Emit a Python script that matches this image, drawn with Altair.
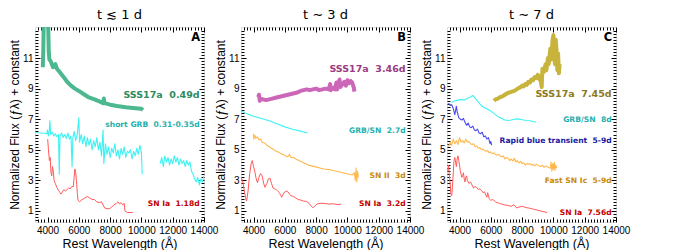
import altair as alt
import pandas as pd

# ---------------- Panel A (t <~ 1 d) ----------------
A_SSS_WL = [3700, 3730, 3760, 3850, 3950, 4030, 4080, 4120, 4200, 4350, 4500, 4600, 4800, 5000, 5250, 5500,
            5750, 6000, 6300, 6600, 7000, 7350, 7550, 7600, 7650, 8000, 8440, 9000, 9460, 9800, 10000, 10100]
A_SSS_FX = [10.4, 11.5, 13.6, 13.6, 13.6, 13.6, 11.4, 10.9, 10.8, 10.4, 10.6, 10.3, 10.05, 9.8, 9.45, 9.2,
            9.0, 8.85, 8.65, 8.45, 8.3, 8.15, 8.05, 8.35, 8.05, 7.95, 7.86, 7.78, 7.73, 7.7, 7.68, 7.6]

A_GRB1_WL = [3200, 3400, 3600, 3800, 3950, 4000, 4050, 4100, 4150, 4200, 4300, 4400, 4500, 4600, 4700, 4750,
             4800, 4900, 5000, 5100, 5200, 5300, 5400, 5500, 5570, 5620, 5700, 5800, 5900, 6000, 6050, 6150,
             6250, 6350, 6450, 6550, 6650, 6750, 6850, 6950, 7050, 7150, 7250, 7350, 7450, 7550, 7600, 7700,
             7800, 7900, 8000, 8100, 8200, 8300, 8400, 8500, 8600, 8700, 8800, 8900, 9000, 9100, 9200, 9300,
             9400, 9500, 9600, 9700, 9800, 9900, 10000, 10050]
A_GRB1_FX = [6.15, 6.12, 6.1, 6.08, 6.05, 6.3, 5.9, 6.1, 6.9, 6.0, 6.15, 5.9, 6.05, 5.85, 6.0, 3.4,
             5.9, 6.1, 5.8, 6.0, 5.75, 6.1, 5.7, 5.9, 3.9, 5.8, 6.2, 5.6, 6.0, 7.1, 5.5, 6.0,
             5.4, 5.9, 5.2, 5.8, 5.3, 5.7, 5.0, 5.6, 5.2, 5.8, 5.0, 5.5, 4.6, 6.3, 4.1, 5.4,
             4.7, 5.2, 4.5, 5.1, 4.8, 5.4, 4.6, 5.0, 4.4, 5.1, 4.7, 5.2, 4.5, 4.9, 4.8, 5.0,
             4.4, 4.9, 4.6, 5.1, 4.7, 5.3, 4.8, 3.4]
A_GRB2_WL = [11200, 11300, 11400, 11500, 11600, 11700, 11800, 11900, 12000, 12100, 12200, 12300, 12400,
             12500, 12600, 12700, 12800, 12900, 13000, 13100, 13200, 13300, 13400, 13500, 13600, 13700,
             13800, 13900, 14000]
A_GRB2_FX = [4.1, 4.5, 3.9, 4.6, 4.2, 4.5, 4.0, 4.4, 4.1, 4.6, 4.2, 4.5, 4.0,
             4.4, 4.1, 4.3, 3.9, 4.3, 4.0, 4.2, 3.6, 3.4, 3.1, 2.9, 3.2, 2.7,
             3.1, 2.9, 3.3]

A_IA_WL = [4010, 4060, 4120, 4170, 4220, 4270, 4320, 4370, 4420, 4500, 4590, 4700, 4800, 4860, 4950, 5050,
           5150, 5250, 5350, 5450, 5550, 5650, 5700, 5750, 5800, 5850, 5900, 5950, 6050, 6150, 6300, 6450,
           6550, 6700, 6850, 7000, 7150, 7300, 7450, 7550, 7650, 7800, 7950, 8100, 8250, 8400, 8500, 8600,
           8700, 8800, 8900, 8950, 9100, 9450]
A_IA_FX = [5.7, 5.0, 4.3, 4.5, 3.5, 3.3, 3.9, 3.6, 3.0, 2.8, 2.55, 2.35, 2.2, 2.1, 2.25, 2.4,
           2.3, 2.4, 2.5, 2.45, 2.6, 2.6, 3.2, 3.75, 3.5, 3.0, 2.2, 1.7, 1.6, 1.7, 1.8, 1.9,
           1.95, 1.85, 1.75, 1.75, 1.6, 1.55, 1.6, 1.4, 1.2, 1.15, 1.15, 1.25, 1.4, 1.5, 1.6, 1.45,
           1.55, 1.4, 1.5, 1.0, 0.9, 0.9]

# ---------------- Panel B (t ~ 3 d) ----------------
B_SSS_WL = [4300, 4350, 4400, 4450, 4500, 4600, 4800, 5000, 5200, 5400, 5600, 5800, 6000, 6200, 6400, 6600,
            6800, 7000, 7200, 7400, 7600, 7800, 8000, 8200, 8400, 8600, 8800, 8900, 8950, 9100, 9200, 9300,
            9350, 9500, 9550, 9700, 9800, 9900, 10000, 10100, 10200, 10300, 10400, 10450]
B_SSS_FX = [8.45, 8.6, 8.2, 8.35, 8.3, 8.3, 8.25, 8.3, 8.35, 8.4, 8.45, 8.5, 8.55, 8.6, 8.65, 8.7,
            8.75, 8.85, 8.9, 8.95, 8.9, 8.95, 9.0, 8.9, 8.95, 9.0, 8.95, 9.3, 8.9, 9.05, 8.95, 9.4,
            8.95, 9.6, 9.1, 9.3, 9.45, 9.2, 9.55, 9.35, 9.5, 9.4, 9.1, 8.8]

B_GRB_WL = [3200, 3600, 4000, 4500, 5000, 5500, 6000, 6500, 7000, 7450]
B_GRB_FX = [7.55, 7.35, 7.2, 7.05, 6.9, 6.7, 6.5, 6.35, 6.22, 6.1]

B_II_WL = [4000, 4020, 4080, 4150, 4250, 4350, 4450, 4550, 4700, 4850, 5000, 5150, 5300, 5450, 5600, 5750,
           5900, 6050, 6200, 6300, 6400, 6550, 6700, 6900, 7100, 7300, 7500, 7700, 7900, 8100, 8300, 8500,
           8700, 8900, 9100, 9300, 9500, 9700, 9900, 10100, 10300, 10450, 10500, 10550, 10600, 10650, 10700]
B_II_FX = [6.05, 5.7, 5.95, 5.75, 5.85, 5.65, 5.7, 5.5, 5.45, 5.3, 5.2, 5.1, 5.0, 4.9, 4.85, 4.75,
           4.7, 4.6, 4.55, 4.7, 4.5, 4.5, 4.4, 4.3, 4.2, 4.1, 4.0, 3.95, 3.9, 3.85, 3.8, 3.75,
           3.72, 3.7, 3.65, 3.6, 3.55, 3.5, 3.45, 3.4, 3.35, 3.5, 3.0, 3.8, 2.9, 3.6, 3.2]

B_IA_WL = [3200, 3300, 3400, 3500, 3560, 3650, 3750, 3850, 3920, 4000, 4080, 4150, 4250, 4350, 4450, 4550,
           4650, 4730, 4850, 4950, 5050, 5150, 5250, 5350, 5450, 5550, 5650, 5750, 5800, 5900, 6000, 6100,
           6200, 6300, 6400, 6550, 6700, 6850, 7000, 7200, 7400, 7550, 7700, 7800, 7900, 8050, 8250, 8500,
           8800, 9100, 9400, 9600]
B_IA_FX = [3.2, 3.0, 2.4, 1.8, 1.65, 2.3, 3.4, 4.1, 4.3, 3.9, 3.6, 3.2, 2.85, 3.2, 3.45, 3.3,
           2.8, 2.55, 2.8, 3.1, 3.15, 2.8, 2.5, 2.45, 2.4, 2.3, 2.2, 2.0, 1.9, 2.1, 2.25, 2.3,
           2.25, 2.1, 2.0, 1.95, 1.85, 1.75, 1.72, 1.65, 1.62, 1.5, 1.3, 1.22, 1.3, 1.45, 1.5, 1.5,
           1.45, 1.47, 1.42, 1.45]

# ---------------- Panel C (t ~ 7 d) ----------------
C_SSS_WL = [6200, 6300, 6450, 6600, 6750, 6900, 7050, 7200, 7350, 7500, 7650, 7800, 7900, 8000, 8100, 8200,
            8300, 8400, 8500, 8600, 8700, 8800, 8900, 9000, 9100, 9150, 9250, 9300, 9400, 9500, 9550, 9650,
            9700, 9800, 9850, 9950, 10000, 10050, 10100, 10150, 10200, 10250, 10300, 10350, 10400]
C_SSS_FX = [8.2, 8.3, 8.35, 8.45, 8.5, 8.6, 8.7, 8.75, 8.8, 8.85, 8.95, 9.05, 9.1, 9.2, 9.15, 9.3,
            9.25, 9.45, 9.4, 9.6, 9.55, 9.75, 9.7, 9.9, 9.6, 9.8, 9.1, 10.3, 10.1, 10.6, 10.2, 11.0,
            10.6, 11.6, 10.9, 12.2, 12.5, 11.2, 10.6, 12.2, 11.5, 10.2, 11.3, 10.0, 10.6]

C_GRB_WL = [3500, 3700, 3900, 4100, 4300, 4500, 4700, 4850, 4950, 5100, 5300, 5500, 5700, 5900, 6100, 6300,
            6500, 6700, 6900, 7100, 7300, 7500, 7700, 7900, 8100, 8300, 8500, 8700, 8900]
C_GRB_FX = [8.1, 8.2, 8.25, 8.3, 8.25, 8.35, 8.45, 8.55, 8.45, 8.25, 8.0, 7.8, 7.7, 7.6, 7.45, 7.3,
            7.15, 7.05, 6.95, 6.92, 6.95, 7.0, 7.02, 7.0, 6.95, 6.92, 6.9, 6.85, 6.82]

C_RBT_WL = [3300, 3400, 3500, 3600, 3700, 3750, 3800, 3850, 3950, 4050, 4150, 4250, 4350, 4450, 4550, 4650,
            4750, 4850, 4950, 5050, 5150, 5250, 5350, 5450, 5550, 5650, 5750, 5850, 5950, 6000, 6050]
C_RBT_FX = [8.05, 7.9, 7.95, 7.7, 7.3, 7.6, 7.85, 7.5, 7.1, 7.0, 6.95, 7.05, 6.8, 6.6, 6.75, 6.5,
            6.45, 6.55, 6.3, 6.25, 6.35, 6.1, 6.05, 6.15, 5.85, 5.9, 5.7, 5.8, 5.4, 5.55, 5.3]

C_IC_WL = [3300, 3400, 3500, 3600, 3700, 3800, 3900, 4000, 4100, 4200, 4300, 4400, 4500, 4600, 4700, 4800,
           4900, 5000, 5100, 5200, 5300, 5400, 5500, 5600, 5700, 5800, 5900, 6000, 6100, 6200, 6300, 6400,
           6500, 6600, 6700, 6800, 6900, 7000, 7100, 7200, 7300, 7400, 7500, 7600, 7700, 7800, 7900, 8000,
           8100, 8200, 8300, 8400, 8500, 8600, 8700, 8800, 8900, 9000, 9100, 9200, 9300, 9400, 9500, 9600,
           9700, 9800, 9850, 9900, 9950, 10000, 10050, 10100, 10150, 10200]
C_IC_FX = [5.2, 5.5, 5.3, 5.7, 5.4, 5.6, 5.35, 5.8, 5.5, 5.6, 5.45, 5.7, 5.5, 5.55, 5.4, 5.35,
           5.4, 5.2, 5.25, 5.1, 5.15, 5.0, 5.05, 4.95, 4.9, 4.95, 4.8, 4.85, 4.75, 4.8, 4.7, 4.65,
           4.7, 4.6, 4.55, 4.6, 4.4, 4.5, 4.45, 4.3, 4.4, 4.25, 4.45, 4.2, 4.3, 4.15, 4.25, 4.1,
           4.15, 4.0, 4.1, 4.05, 4.1, 4.0, 4.05, 3.95, 4.05, 4.0, 3.95, 3.9, 4.0, 3.85, 3.95, 3.9,
           3.85, 3.8, 4.2, 3.6, 4.1, 3.7, 4.2, 3.65, 4.0, 3.8]

C_IA_WL = [3250, 3300, 3350, 3400, 3450, 3500, 3550, 3600, 3650, 3700, 3750, 3800, 3850, 3900, 3950, 4000,
           4050, 4100, 4150, 4200, 4250, 4300, 4350, 4400, 4450, 4500, 4600, 4700, 4800, 4900, 5000, 5100,
           5200, 5300, 5400, 5500, 5600, 5700, 5750, 5800, 5850, 5900, 6000, 6100, 6200, 6300, 6400, 6550,
           6700, 6850, 7000, 7150, 7300, 7450, 7550, 7650, 7800, 7950, 8100, 8250, 8400, 8600, 8800, 9000,
           9200, 9400, 9600]
C_IA_FX = [3.6, 4.0, 3.3, 2.8, 2.1, 2.0, 2.6, 3.5, 4.3, 4.5, 4.2, 3.9, 4.4, 4.6, 4.3, 4.0,
           3.6, 3.4, 3.2, 3.3, 3.5, 3.1, 2.9, 3.2, 3.3, 3.0, 2.8, 2.9, 2.7, 2.5, 2.6, 2.55,
           2.4, 2.45, 2.35, 2.2, 2.25, 2.0, 1.9, 2.2, 2.0, 1.8, 1.7, 1.75, 1.7, 1.6, 1.55, 1.5,
           1.45, 1.4, 1.38, 1.35, 1.3, 1.4, 1.35, 1.2, 1.25, 1.3, 1.28, 1.22, 1.2, 1.15, 1.1, 1.05,
           1.0, 0.95, 0.9]

# ---------------- Labels ----------------
A_LABELS = ["SSS17a\u00a0\u00a00.49d", "short GRB\u00a0\u00a00.31-0.35d", "SN Ia\u00a0\u00a01.18d"]
A_LABEL_Y = [8.56, 6.6, 1.48]
B_LABELS = ["SSS17a\u00a0\u00a03.46d", "GRB/SN\u00a0\u00a02.7d", "SN II\u00a0\u00a03d", "SN Ia\u00a0\u00a03.2d"]
B_LABEL_Y = [10.3, 6.21, 3.29, 1.44]
C_LABELS = ["SSS17a\u00a0\u00a07.45d", "GRB/SN\u00a0\u00a08d", "Rapid blue transient\u00a0\u00a05-9d",
            "Fast SN Ic\u00a0\u00a05-9d", "SN Ia\u00a0\u00a07.56d"]
C_LABEL_Y = [8.67, 6.93, 5.58, 2.96, 0.87]
LABEL_WL = 13720
PANEL_TITLES = ["t \u2272 1 d", "t \u223c 3 d", "t \u223c 7 d"]
PANEL_LETTERS = ["A", "B", "C"]
LETTER_WL = 13750
LETTER_Y = 12.3

# x / y ticks
X_TICKS = [3400 + 200 * i for i in range(54)]
Y_TICKS = [round(0.4 + 0.2 * i, 1) for i in range(63)]

# ---------------- Styles ----------------
LINE_COL = {"sssA": "#4cb88f", "grb": "#3ef2f2", "ia": "#ff5a5a", "sssB": "#cc66b8",
            "ii": "#ffb84d", "sssC": "#c8b43c", "rbt": "#4a4af2", "ic": "#ffb84d"}
LABEL_COL = {"sssA": "#2e8b5f", "grb": "#1fb0ad", "ia": "#c40000", "sssB": "#9b3c86",
             "ii": "#c98a0a", "sssC": "#8b7a1e", "rbt": "#1a1aa0", "ic": "#c98a0a"}

W, H = 169, 195

series = [
    ("A", "sssA", "a1", A_SSS_WL, A_SSS_FX, 4.0),
    ("A", "grb", "a2", A_GRB1_WL, A_GRB1_FX, 1.1),
    ("A", "grb", "a3", A_GRB2_WL, A_GRB2_FX, 1.1),
    ("A", "ia", "a4", A_IA_WL, A_IA_FX, 1.0),
    ("B", "sssB", "b1", B_SSS_WL, B_SSS_FX, 4.0),
    ("B", "grb", "b2", B_GRB_WL, B_GRB_FX, 1.1),
    ("B", "ii", "b3", B_II_WL, B_II_FX, 1.1),
    ("B", "ia", "b4", B_IA_WL, B_IA_FX, 1.0),
    ("C", "sssC", "c1", C_SSS_WL, C_SSS_FX, 4.0),
    ("C", "grb", "c2", C_GRB_WL, C_GRB_FX, 1.1),
    ("C", "rbt", "c3", C_RBT_WL, C_RBT_FX, 1.1),
    ("C", "ic", "c4", C_IC_WL, C_IC_FX, 1.1),
    ("C", "ia", "c5", C_IA_WL, C_IA_FX, 1.0),
]
rows = []
for panel, kind, key, wl, fx, sw in series:
    for w_, f_ in zip(wl, fx):
        rows.append({"panel": panel, "key": key, "wl": w_, "flux": f_,
                     "col": LINE_COL[kind], "sw": sw})
lines_df = pd.DataFrame(rows)

label_sets = {
    "A": (A_LABELS, A_LABEL_Y, ["sssA", "grb", "ia"]),
    "B": (B_LABELS, B_LABEL_Y, ["sssB", "grb", "ii", "ia"]),
    "C": (C_LABELS, C_LABEL_Y, ["sssC", "grb", "rbt", "ic", "ia"]),
}

x_major = "abs(datum.value % 2000) < 1"
y_major = "abs(datum.value - round(datum.value)) < 0.01 && round(datum.value) % 2 == 1"


def xenc():
    return alt.X("wl:Q", scale=alt.Scale(domain=[3200, 14000], nice=False, zero=False),
                 axis=alt.Axis(values=X_TICKS, title="Rest Wavelength (\u00c5)", domain=False, ticks=False,
                               labelExpr=f"({x_major}) ? format(datum.value, 'd') : ''",
                               labelOverlap=False, labelFlush=False, labelPadding=3,
                               grid=True, gridColor="black", gridOpacity=1, gridWidth=1,
                               gridDash={"condition": {"test": x_major, "value": [5, H - 10, 5, 0]},
                                         "value": [3, H - 6, 3, 0]},
                               titlePadding=2, titleFontWeight="normal", titleFontSize=12.5))


def yenc():
    return alt.Y("flux:Q", scale=alt.Scale(domain=[0.28, 13.03], nice=False, zero=False),
                 axis=alt.Axis(values=Y_TICKS, title="Normalized Flux (\u0192\u03bb) + constant",
                               domain=False, ticks=False,
                               labelExpr=f"({y_major}) ? format(round(datum.value), 'd') : ''",
                               labelOverlap=False, labelFlush=False, labelPadding=2,
                               grid=True, gridColor="black", gridOpacity=1, gridWidth=1,
                               gridDash={"condition": {"test": y_major, "value": [5, W - 10, 5, 0]},
                                         "value": [3, W - 6, 3, 0]},
                               titlePadding=1, titleFontWeight="normal", titleFontSize=12))


def make_panel(i, p):
    d = lines_df[lines_df.panel == p]
    lines = alt.Chart(d).mark_line(clip=True, strokeJoin="round").encode(
        x=xenc(), y=yenc(),
        detail="key:N",
        color=alt.Color("col:N", scale=None),
        strokeWidth=alt.StrokeWidth("sw:Q", scale=None),
    )
    labs, ys, kinds = label_sets[p]
    ldf = pd.DataFrame({"wl": [LABEL_WL] * len(labs), "flux": ys, "text": labs,
                        "col": [LABEL_COL[k] for k in kinds],
                        "size": [9.5 if k.startswith("sss") else 7.6 for k in kinds]})
    texts = alt.Chart(ldf).mark_text(align="right", baseline="middle", fontWeight="bold",
                                     font="DejaVu Sans").encode(
        x=xenc(), y=yenc(), text="text:N",
        color=alt.Color("col:N", scale=None),
        size=alt.Size("size:Q", scale=None),
    )
    letter = alt.Chart(pd.DataFrame({"wl": [LETTER_WL], "flux": [LETTER_Y], "text": [PANEL_LETTERS[i]]})) \
        .mark_text(align="right", baseline="middle", fontWeight="bold", fontSize=11.5,
                   font="DejaVu Sans", color="black").encode(x=xenc(), y=yenc(), text="text:N")
    return alt.layer(lines, texts, letter).properties(
        width=W, height=H,
        title=alt.TitleParams(PANEL_TITLES[i], fontSize=13, fontWeight="normal", font="DejaVu Sans",
                              offset=4, color="black"))


chart = alt.hconcat(*[make_panel(i, p) for i, p in enumerate(["A", "B", "C"])],
                    spacing=37, bounds="flush") \
    .configure_view(stroke="black", strokeWidth=1) \
    .configure_axis(labelFont="DejaVu Sans", titleFont="DejaVu Sans", labelFontSize=9.5,
                    titleFontWeight="normal", labelColor="black", titleColor="black") \
    .configure(background="white", padding=0)

chart.save("out.html", embed_options={"renderer": "svg", "actions": False})
